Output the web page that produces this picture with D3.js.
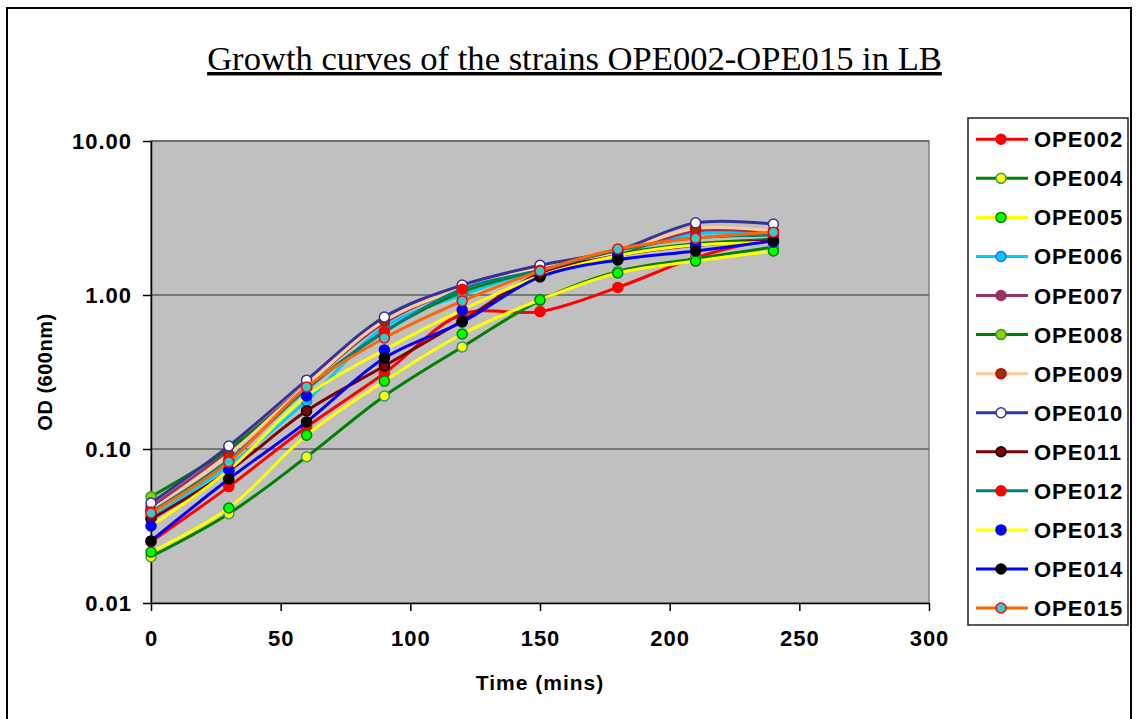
<!DOCTYPE html>
<html>
<head>
<meta charset="utf-8">
<script src="https://cdn.jsdelivr.net/npm/d3@7"></script>
<style>
  body { margin: 0; background: #fff; }
  svg { display: block; }
  text { font-family: Arial, "Liberation Sans", sans-serif; }
</style>
</head>
<body>
<svg id="chart"></svg>
<script>
// sampling times (mins)
var times = [0, 30, 60, 90, 120, 150, 180, 210, 240]

// OD600 readings per strain
var ope002 = [0.025, 0.057, 0.139, 0.31, 0.75, 0.78, 1.12, 1.75, 2.35]
var ope004 = [0.020, 0.038, 0.089, 0.221, 0.46, 0.92, 1.42, 1.72, 2.05]
var ope005 = [0.0214, 0.0414, 0.123, 0.276, 0.558, 0.93, 1.39, 1.66, 1.93]
var ope006 = [0.036, 0.078, 0.205, 0.62, 1.0, 1.45, 1.85, 2.5, 2.45]
var ope007 = [0.042, 0.098, 0.26, 0.66, 1.1, 1.45, 1.85, 2.6, 2.55]
var ope008 = [0.049, 0.100, 0.25, 0.58, 1.05, 1.45, 1.85, 2.15, 2.3]
var ope009 = [0.040, 0.092, 0.26, 0.68, 1.1, 1.5, 1.9, 2.7, 2.6]
var ope010 = [0.0446, 0.1045, 0.28, 0.72, 1.16, 1.56, 1.95, 2.94, 2.89]
var ope011 = [0.035, 0.072, 0.177, 0.346, 0.68, 1.38, 1.8, 2.1, 2.25]
var ope012 = [0.039, 0.085, 0.245, 0.575, 1.09, 1.45, 1.95, 2.35, 2.45]
var ope013 = [0.0316, 0.073, 0.221, 0.44, 0.8, 1.33, 1.8, 2.11, 2.2]
var ope014 = [0.0253, 0.0638, 0.15, 0.39, 0.668, 1.31, 1.69, 1.93, 2.24]
var ope015 = [0.0384, 0.0824, 0.253, 0.526, 0.914, 1.43, 1.99, 2.34, 2.56]

var strainNames = ["OPE002", "OPE004", "OPE005", "OPE006", "OPE007", "OPE008", "OPE009",
                   "OPE010", "OPE011", "OPE012", "OPE013", "OPE014", "OPE015"]
var strainValues = [ope002, ope004, ope005, ope006, ope007, ope008, ope009,
                    ope010, ope011, ope012, ope013, ope014, ope015]

var yTicks = [0.01, 0.1, 1, 10]
var xTicks = [0, 50, 100, 150, 200, 250, 300]

// excel-ish styles: line colour, marker fill, marker edge
var styles = {
  OPE002: { line: "#FF0000", fill: "#FF0000", edge: "#FF0000" },
  OPE004: { line: "#008000", fill: "#FFFF00", edge: "#339966" },
  OPE005: { line: "#FFFF00", fill: "#00FF00", edge: "#008000" },
  OPE006: { line: "#00CCFF", fill: "#00CCFF", edge: "#3366FF" },
  OPE007: { line: "#993366", fill: "#993366", edge: "#993366" },
  OPE008: { line: "#008000", fill: "#99CC00", edge: "#339933" },
  OPE009: { line: "#FFCC99", fill: "#993300", edge: "#CC0000" },
  OPE010: { line: "#333399", fill: "#FFFFFF", edge: "#333399" },
  OPE011: { line: "#800000", fill: "#800000", edge: "#000000" },
  OPE012: { line: "#008080", fill: "#FF0000", edge: "#FF0000" },
  OPE013: { line: "#FFFF00", fill: "#0000FF", edge: "#0000FF" },
  OPE014: { line: "#0000FF", fill: "#000000", edge: "#000000" },
  OPE015: { line: "#FF6600", fill: "#33CCCC", edge: "#FF0000" }
}

var dimensions = {
  width: 1139,
  height: 719,
  plot: { left: 151, right: 929, top: 141, bottom: 603 }
}

var svg = d3.select("#chart")
  .attr("width", dimensions.width)
  .attr("height", dimensions.height)

// outer chart frame
svg.append("rect")
  .attr("x", 7)
  .attr("y", 8)
  .attr("width", 1124)
  .attr("height", 730)
  .attr("fill", "#fff")
  .attr("stroke", "#000")
  .attr("stroke-width", 2)

// title
svg.append("text")
  .text("Growth curves of the strains OPE002-OPE015 in LB")
  .attr("x", 574.5)
  .attr("y", 70)
  .attr("text-anchor", "middle")
  .style("font-family", "'Liberation Serif', 'Times New Roman', serif")
  .style("font-size", "34.6px")
  .style("text-decoration", "underline")

var x = d3.scaleLinear()
  .domain([0, 300])
  .range([dimensions.plot.left, dimensions.plot.right])

var y = d3.scaleLog()
  .domain([0.01, 10])
  .range([dimensions.plot.bottom, dimensions.plot.top])

// grey plot area
svg.append("rect")
  .attr("x", x(0))
  .attr("y", y(10))
  .attr("width", x(300) - x(0))
  .attr("height", y(0.01) - y(10))
  .attr("fill", "#C0C0C0")
  .attr("stroke", "#808080")
  .attr("stroke-width", 1.5)

// gridlines
svg.append("g")
  .selectAll("line")
  .data(yTicks.slice(1))
  .enter().append("line")
    .attr("x1", x(0))
    .attr("x2", x(300))
    .attr("y1", function(d) { return y(d) })
    .attr("y2", function(d) { return y(d) })
    .attr("stroke", "#606060")
    .attr("stroke-width", 1.5)

// axes
var yAxis = svg.append("g")
  .attr("transform", "translate(" + x(0) + ",0)")
  .call(d3.axisLeft(y)
    .tickValues(yTicks)
    .tickFormat(d3.format(".2f"))
    .tickSize(8)
    .tickSizeOuter(0)
    .tickPadding(11))

var xAxis = svg.append("g")
  .attr("transform", "translate(0," + y(0.01) + ")")
  .call(d3.axisBottom(x)
    .tickValues(xTicks)
    .tickFormat(d3.format("d"))
    .tickSize(8)
    .tickSizeOuter(0)
    .tickPadding(19))

svg.selectAll(".domain, .tick line")
  .attr("stroke", "#000")
  .attr("stroke-width", 1.5)
svg.selectAll(".tick text")
  .attr("fill", "#000")
  .style("font-family", "Arial, 'Liberation Sans', sans-serif")
  .style("font-size", "22px")
  .style("font-weight", "bold")
  .style("letter-spacing", "1px")

// axis titles
svg.append("text")
  .text("Time (mins)")
  .attr("x", 540)
  .attr("y", 690)
  .attr("text-anchor", "middle")
  .style("font-size", "21px")
  .style("font-weight", "bold")
  .style("letter-spacing", "1px")

svg.append("text")
  .text("OD (600nm)")
  .attr("transform", "translate(52,372) rotate(-90)")
  .attr("text-anchor", "middle")
  .style("font-size", "20px")
  .style("font-weight", "bold")
  .style("letter-spacing", "0.5px")

// series
var line = d3.line()
  .x(function(d) { return x(d.t) })
  .y(function(d) { return y(d.v) })
  .curve(d3.curveCatmullRom)

var series = strainNames.map(function(name, i) {
  return {
    name: name,
    points: times.map(function(t, j) { return { t: t, v: strainValues[i][j] } })
  }
})

var groups = svg.append("g")
  .selectAll("g")
  .data(series)
  .enter().append("g")

groups.append("path")
  .attr("d", function(d) { return line(d.points) })
  .attr("fill", "none")
  .attr("stroke", function(d) { return styles[d.name].line })
  .attr("stroke-width", 3)

groups.selectAll("circle")
  .data(function(d) { return d.points.map(function(p) { return { name: d.name, t: p.t, v: p.v } }) })
  .enter().append("circle")
    .attr("cx", function(d) { return x(d.t) })
    .attr("cy", function(d) { return y(d.v) })
    .attr("r", 5)
    .attr("fill", function(d) { return styles[d.name].fill })
    .attr("stroke", function(d) { return styles[d.name].edge })
    .attr("stroke-width", 1.5)

// legend
var legendY = d3.scalePoint()
  .domain(strainNames)
  .range([139.3, 608])

var legend = svg.append("g")

legend.append("rect")
  .attr("x", 968)
  .attr("y", 118)
  .attr("width", 160)
  .attr("height", 507)
  .attr("fill", "#fff")
  .attr("stroke", "#222")
  .attr("stroke-width", 1.5)

var items = legend.selectAll("g.item")
  .data(strainNames)
  .enter().append("g")
    .attr("class", "item")
    .attr("transform", function(d) { return "translate(0," + legendY(d) + ")" })

items.append("line")
  .attr("x1", 976)
  .attr("x2", 1028)
  .attr("stroke", function(d) { return styles[d].line })
  .attr("stroke-width", 3)

items.append("circle")
  .attr("cx", 1001)
  .attr("r", 5)
  .attr("fill", function(d) { return styles[d].fill })
  .attr("stroke", function(d) { return styles[d].edge })
  .attr("stroke-width", 1.5)

items.append("text")
  .text(function(d) { return d })
  .attr("x", 1034)
  .attr("y", 8)
  .style("font-size", "22px")
  .style("font-weight", "bold")
  .style("letter-spacing", "1px")
</script>
</body>
</html>
